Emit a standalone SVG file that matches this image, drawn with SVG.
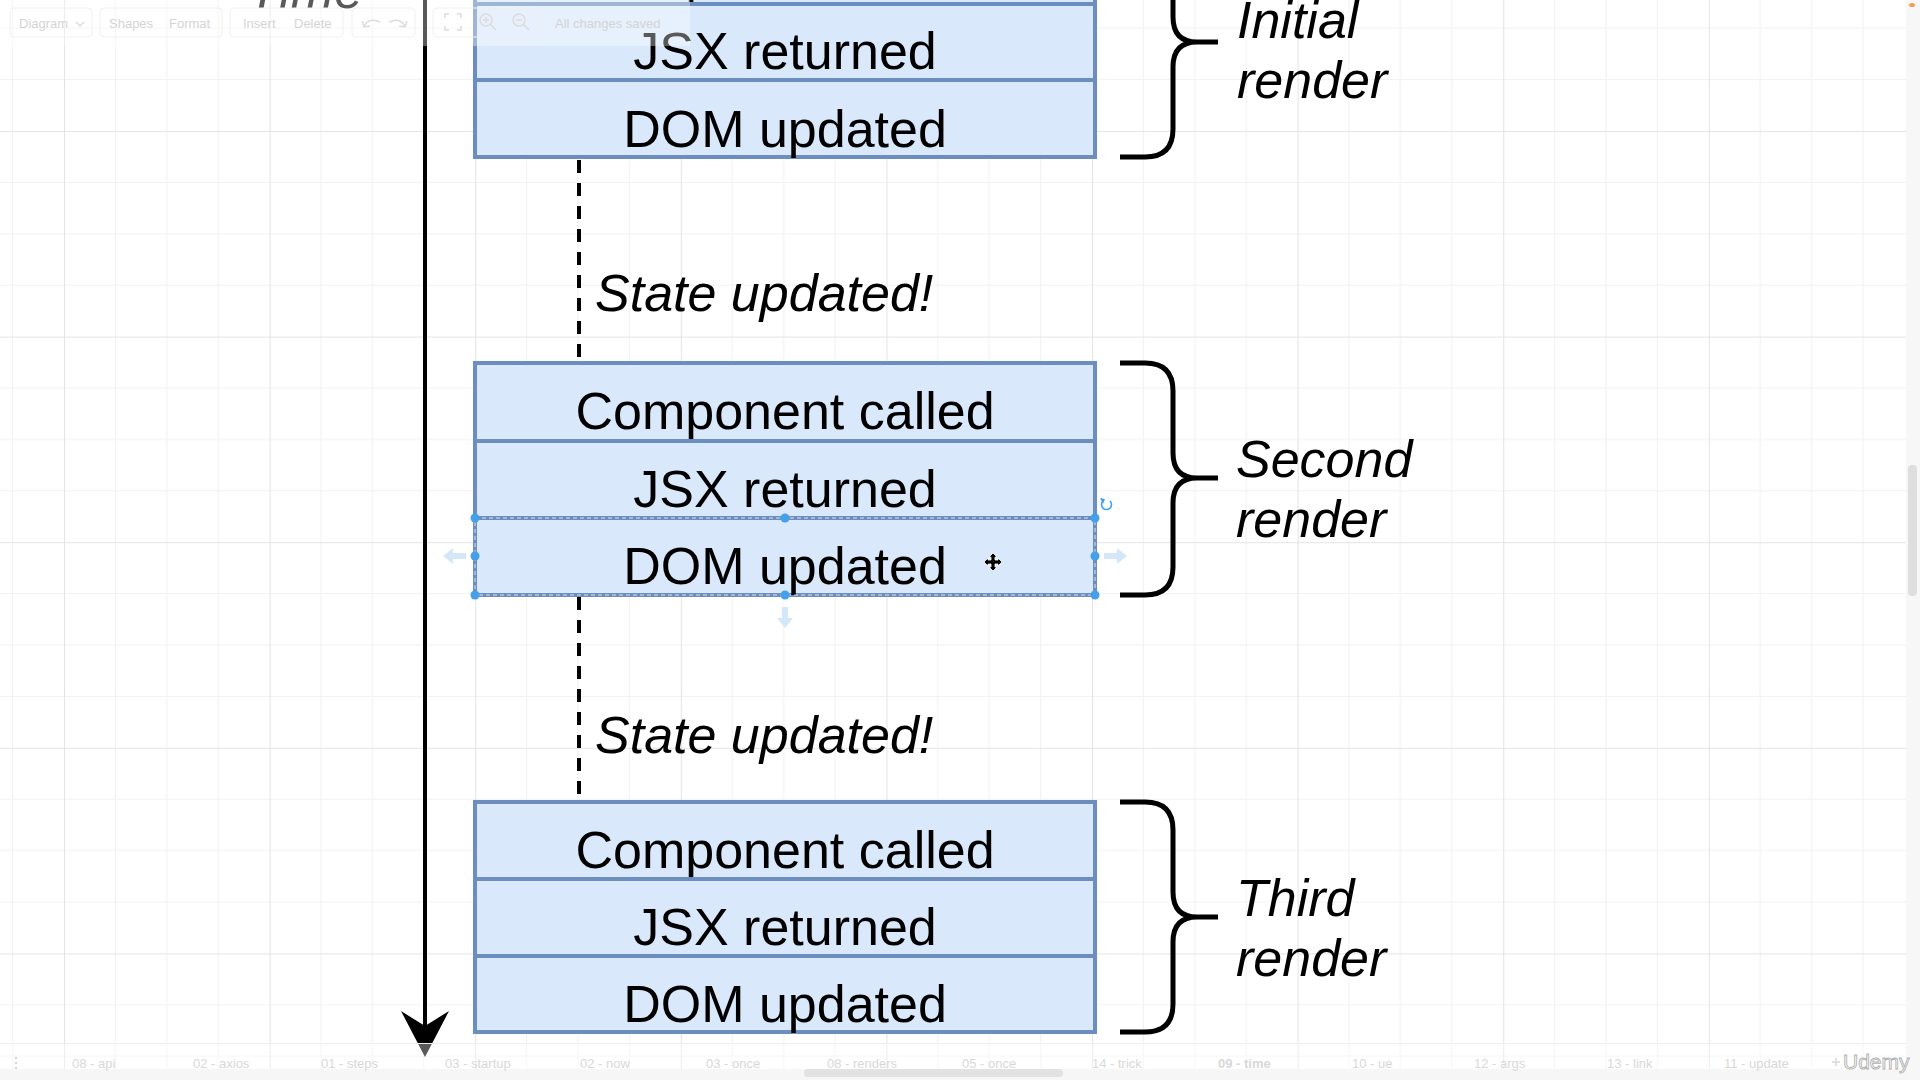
<svg xmlns="http://www.w3.org/2000/svg" width="1920" height="1080" viewBox="0 0 1920 1080">
<style>
.row{fill:#dae8fc;stroke:#6c8ebf;stroke-width:4}
.rt{font-family:"Liberation Sans",Arial,Helvetica,sans-serif;font-size:52px;text-anchor:middle;fill:#000}
.it{font-family:"Liberation Sans",Arial,Helvetica,sans-serif;font-size:52px;font-style:italic;fill:#000}
.brace{fill:none;stroke:#000;stroke-width:5}
.dash{stroke:#000;stroke-width:4;stroke-dasharray:13 10;fill:none}
.ui{font-family:"Liberation Sans",Arial,sans-serif;font-size:13px;fill:#d4d4d4}
.tab{font-family:"Liberation Sans",Arial,sans-serif;font-size:13px;fill:#d8d8d8}
.uibox{fill:none;stroke:#f0f0f0;stroke-width:1}
.uiicon{fill:none;stroke:#dcdcdc;stroke-width:1.5}
.handle{fill:#45a0ec}
.ghost{fill:#d3e7f8}
</style>
<defs>
<pattern id="grid" patternUnits="userSpaceOnUse" x="64" y="131" width="205.6" height="205.6">
<path d="M51.4 0V205.6M102.8 0V205.6M154.2 0V205.6M0 51.4H205.6M0 102.8H205.6M0 154.2H205.6" stroke="#f2f2f2" stroke-width="1.2" fill="none"/>
<path d="M0.5 0V205.6M0 0.5H205.6" stroke="#e4e4e4" stroke-width="1.2" fill="none"/>
</pattern>
<marker id="arrowhead" markerUnits="userSpaceOnUse" markerWidth="48" markerHeight="50" viewBox="0 0 48 50" refX="15" refY="25" orient="auto">
<path d="M0 1 L46 25 L0 49 L15 25 Z" fill="#000"/>
</marker>
</defs>

<rect width="1920" height="1080" fill="#fff"/>
<rect width="1920" height="1080" fill="url(#grid)"/>

<!-- Time label (mostly off-screen) -->
<text class="it" x="248" y="8" font-size="70" fill="#222">Time</text>

<!-- Connectors -->
<g id="connectors">
<line id="timeline" x1="425" y1="-5" x2="425" y2="1026" stroke="#000" stroke-width="4" marker-end="url(#arrowhead)"/>
<line id="dash1" class="dash" x1="579" y1="160" x2="579" y2="361"/>
<line id="dash2" class="dash" x1="579" y1="597" x2="579" y2="800"/>
</g>

<!-- Initial render -->
<g id="initial-render">
<g id="r1-component"><rect class="row" x="475" y="-73" width="620" height="77"/><text class="rt" x="785" y="-7">Component called</text></g>
<g id="r1-jsx"><rect class="row" x="475" y="4" width="620" height="76"/><text class="rt" x="785" y="69">JSX returned</text></g>
<g id="r1-dom"><rect class="row" x="475" y="80" width="620" height="77"/><text class="rt" x="785" y="147">DOM updated</text></g>
</g>

<!-- Second render -->
<g id="second-render">
<g id="r2-component"><rect class="row" x="475" y="363" width="620" height="78"/><text class="rt" x="785" y="429">Component called</text></g>
<g id="r2-jsx"><rect class="row" x="475" y="441" width="620" height="77"/><text class="rt" x="785" y="507">JSX returned</text></g>
<g id="r2-dom"><rect class="row" x="475" y="518" width="620" height="77"/><text class="rt" x="785" y="584">DOM updated</text></g>
</g>

<!-- Third render -->
<g id="third-render">
<g id="r3-component"><rect class="row" x="475" y="802" width="620" height="77"/><text class="rt" x="785" y="868">Component called</text></g>
<g id="r3-jsx"><rect class="row" x="475" y="879" width="620" height="77"/><text class="rt" x="785" y="945">JSX returned</text></g>
<g id="r3-dom"><rect class="row" x="475" y="956" width="620" height="76"/><text class="rt" x="785" y="1022">DOM updated</text></g>
</g>

<!-- State labels -->
<g id="state1"><text class="it" x="595" y="311">State updated!</text></g>
<g id="state2"><text class="it" x="595" y="753">State updated!</text></g>

<!-- Braces and labels -->
<g id="brace1">
<path class="brace" d="M1120 -73 H1145 Q1173 -73 1173 -45 V17 Q1173 42 1197 42 H1218 M1197 42 Q1173 42 1173 67 V129 Q1173 157 1145 157 H1120"/>
<text class="it" x="1237" y="38">Initial</text>
<text class="it" x="1237" y="98">render</text>
</g>
<g id="brace2">
<path class="brace" d="M1120 363 H1145 Q1173 363 1173 391 V453 Q1173 478 1197 478 H1218 M1197 478 Q1173 478 1173 503 V567 Q1173 595 1145 595 H1120"/>
<text class="it" x="1236" y="477">Second</text>
<text class="it" x="1236" y="537">render</text>
</g>
<g id="brace3">
<path class="brace" d="M1120 802 H1145 Q1173 802 1173 830 V892 Q1173 917 1197 917 H1218 M1197 917 Q1173 917 1173 942 V1004 Q1173 1032 1145 1032 H1120"/>
<text class="it" x="1236" y="916">Third</text>
<text class="it" x="1236" y="976">render</text>
</g>

<!-- Selection decorations on second render DOM row -->
<g id="selection">
<rect x="475" y="518" width="620" height="77" fill="none" stroke="#ffffff" stroke-opacity="0.75" stroke-width="1" stroke-dasharray="4 3"/>
<circle class="handle" cx="475" cy="518" r="4.5"/><circle class="handle" cx="785" cy="518" r="4.5"/><circle class="handle" cx="1095" cy="518" r="4.5"/>
<circle class="handle" cx="475" cy="556" r="4.5"/><circle class="handle" cx="1095" cy="556" r="4.5"/>
<circle class="handle" cx="475" cy="595" r="4.5"/><circle class="handle" cx="785" cy="595" r="4.5"/><circle class="handle" cx="1095" cy="595" r="4.5"/>
<path class="ghost" d="M443 556 L453 548 V553 H466 V559 H453 V564 Z"/>
<path class="ghost" d="M1127 556 L1117 548 V553 H1104 V559 H1117 V564 Z"/>
<path class="ghost" d="M785 628 L777 618 H782 V607 H788 V618 H793 Z"/>
<path d="M1110 501 A5 5 0 1 1 1103 501" fill="none" stroke="#45a0ec" stroke-width="1.6"/>
<path d="M1100 498 L1105 499 L1103 504 Z" fill="#45a0ec"/>
<path d="M993 553 L997 557 H995 V560 H998 V558 L1002 562 L998 566 V564 H995 V567 H997 L993 571 L989 567 H991 V564 H988 V566 L984 562 L988 558 V560 H991 V557 H989 Z" fill="#000" stroke="#fff" stroke-width="0.8"/>
</g>

<!-- Editor chrome: top toolbar -->
<g id="toolbar">
<rect x="0" y="0" width="690" height="46" fill="#fff" fill-opacity="0.35"/>
<rect class="uibox" x="10" y="8" width="82" height="29" rx="4"/>
<text class="ui" x="19" y="28">Diagram</text>
<path class="uiicon" d="M76 22 L80 26 L84 22"/>
<rect class="uibox" x="100" y="8" width="122" height="29" rx="4"/>
<text class="ui" x="109" y="28">Shapes</text>
<text class="ui" x="169" y="28">Format</text>
<rect class="uibox" x="230" y="8" width="113" height="29" rx="4"/>
<text class="ui" x="243" y="28">Insert</text>
<text class="ui" x="294" y="28">Delete</text>
<rect class="uibox" x="352" y="8" width="63" height="29" rx="4"/>
<path class="uiicon" d="M364 27 Q368 17 380 22 M362 21 L364 27 L370 26"/>
<path class="uiicon" d="M405 27 Q401 17 389 22 M407 21 L405 27 L399 26"/>
<rect class="uibox" x="433" y="8" width="107" height="29" rx="4"/>
<path class="uiicon" d="M445 18 V14 H449 M457 14 H461 V18 M461 26 V30 H457 M449 30 H445 V26"/>
<circle class="uiicon" cx="486" cy="20" r="6"/><path class="uiicon" d="M490 24 L496 30 M483 20 H489 M486 17 V23"/>
<circle class="uiicon" cx="519" cy="20" r="6"/><path class="uiicon" d="M523 24 L529 30 M516 20 H522"/>
<text class="ui" x="555" y="28">All changes saved</text>
</g>

<!-- Editor chrome: right scrollbar -->
<g id="right-scroll">
<rect x="1906" y="0" width="14" height="1080" fill="#f7f7f7"/>
<rect x="1908" y="465" width="9" height="131" rx="4" fill="#dedede"/>
<ellipse cx="1912" cy="5" rx="3" ry="2" fill="#f0a050"/>
</g>

<!-- Editor chrome: bottom page tabs -->
<g id="page-tabs">
<rect x="0" y="1043" width="1906" height="26" fill="#fff" fill-opacity="0.35"/>
<line x1="0" y1="1043.5" x2="1906" y2="1043.5" stroke="#efefef"/>
<rect x="0" y="1069" width="1906" height="11" fill="#f6f6f6"/>
<rect x="804" y="1069" width="259" height="8" rx="4" fill="#e2e2e2"/>
<circle cx="16" cy="1058" r="1.3" fill="#d8d8d8"/><circle cx="16" cy="1063" r="1.3" fill="#d8d8d8"/><circle cx="16" cy="1068" r="1.3" fill="#d8d8d8"/>
<text class="tab" x="72" y="1068">08 - api</text>
<text class="tab" x="193" y="1068">02 - axios</text>
<text class="tab" x="321" y="1068">01 - steps</text>
<text class="tab" x="445" y="1068">03 - startup</text>
<text class="tab" x="580" y="1068">02 - now</text>
<text class="tab" x="706" y="1068">03 - once</text>
<text class="tab" x="827" y="1068">08 - renders</text>
<text class="tab" x="962" y="1068">05 - once</text>
<text class="tab" x="1092" y="1068">14 - trick</text>
<text class="tab" x="1218" y="1068" font-weight="bold" fill="#b8b8b8">09 - time</text>
<text class="tab" x="1352" y="1068">10 - ue</text>
<text class="tab" x="1474" y="1068">12 - args</text>
<text class="tab" x="1607" y="1068">13 - link</text>
<text class="tab" x="1724" y="1068">11 - update</text>
<path d="M1832 1062 H1840 M1836 1058 V1066" stroke="#d8d8d8" stroke-width="1.5"/>
<text x="1843" y="1069" font-family="'Liberation Sans',Arial,sans-serif" font-size="21" fill="#fff" stroke="#b0b0b0" stroke-width="0.9">Udemy</text>
</g>
</svg>
